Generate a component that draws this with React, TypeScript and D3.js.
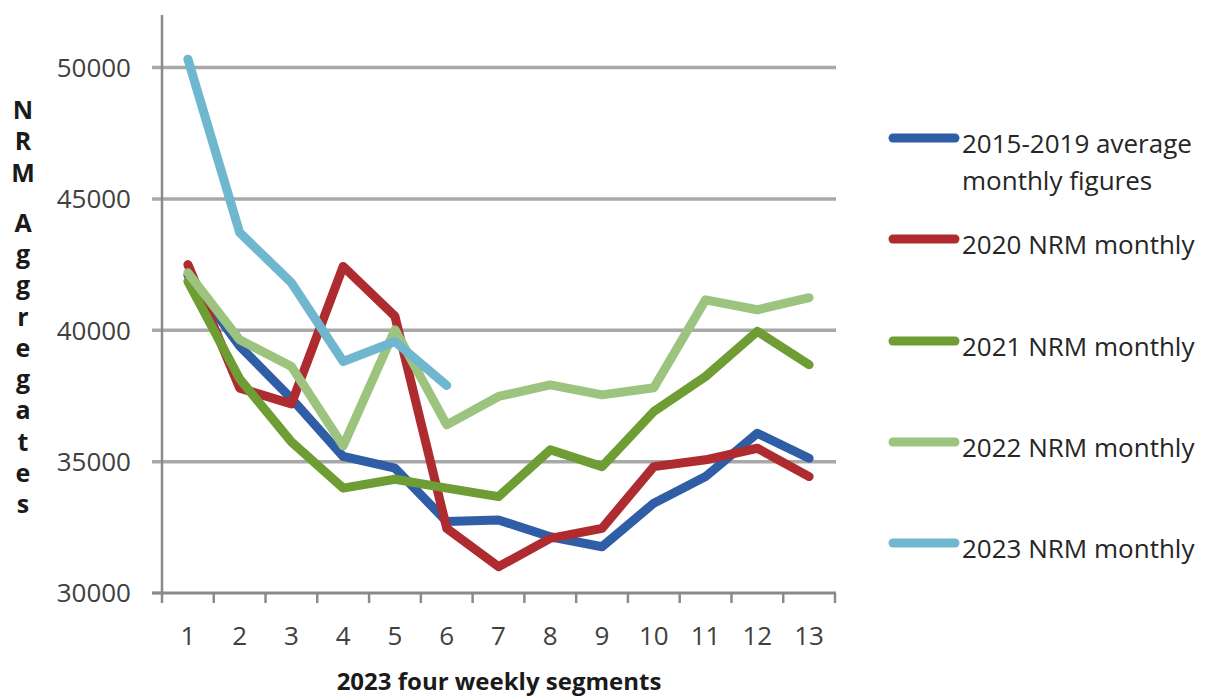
import React from "react";
import * as d3 from "d3";

// four-weekly segments 1..13
const segments = ["1", "2", "3", "4", "5", "6", "7", "8", "9", "10", "11", "12", "13"];

const avg2015to2019 = [42100, 39400, 37400, 35200, 34750, 32720, 32780, 32140, 31760, 33420, 34430, 36080, 35130];
const nrm2020 = [42500, 37800, 37200, 42430, 40530, 32460, 31000, 32080, 32460, 34810, 35070, 35510, 34430];
const nrm2021 = [41860, 38150, 35750, 33990, 34330, 33990, 33670, 35450, 34810, 36910, 38240, 39960, 38690];
const nrm2022 = [42190, 39640, 38620, 35600, 40020, 36400, 37480, 37920, 37540, 37810, 41160, 40780, 41240];
const nrm2023 = [50320, 43720, 41810, 38810, 39570, 37900];

const yTicks = [30000, 35000, 40000, 45000, 50000];

const seriesNames = [
  "2015-2019 average monthly figures",
  "2020 NRM monthly",
  "2021 NRM monthly",
  "2022 NRM monthly",
  "2023 NRM monthly",
];
const seriesValues = [avg2015to2019, nrm2020, nrm2021, nrm2022, nrm2023];
const seriesColors = ["#2F5DA6", "#AE2B2F", "#6D9D33", "#9CC47E", "#6FB6CF"];

const yTitle = "NRM Aggregates";
const xTitle = "2023 four weekly segments";

const W = 1213;
const H = 700;
const plot = { left: 162, right: 835, top: 15, bottom: 593 };

export default function App() {
  const x = d3.scaleBand<string>().domain(segments).range([plot.left, plot.right]);
  const y = d3.scaleLinear().domain([30000, 52000]).range([plot.bottom, plot.top]);
  const cx = (s: string) => (x(s) ?? 0) + x.bandwidth() / 2;

  const line = d3
    .line<number>()
    .x((_, i) => cx(segments[i]))
    .y((d) => y(d));

  const font = "'Open Sans', sans-serif";

  // stacked vertical title: a space takes a shorter step
  let acc = 0;
  const titleChars = yTitle.split("").map((ch) => {
    const pos = acc;
    acc += ch === " " ? 0.6 : 1;
    return { ch, pos };
  });
  const titleStep = 31.3;

  const legendY = [138, 239, 341, 442, 543];

  return (
    <svg width={W} height={H} style={{ position: "absolute", left: 0, top: 0, background: "#fff" }}>
      {/* gridlines */}
      {yTicks.slice(1).map((t) => (
        <line key={t} x1={plot.left - 10} x2={plot.right + 1} y1={y(t)} y2={y(t)} stroke="#A8A8A8" strokeWidth={3.5} />
      ))}
      {/* y axis */}
      <line x1={plot.left} x2={plot.left} y1={plot.top} y2={plot.bottom} stroke="#8A8A8A" strokeWidth={2.5} />
      <line x1={plot.left - 10} x2={plot.left} y1={y(30000)} y2={y(30000)} stroke="#8A8A8A" strokeWidth={2.5} />
      {yTicks.map((t) => (
        <text key={t} x={131} y={y(t)} dy="0.36em" textAnchor="end" fontFamily={font} fontSize={26} fill="#404040">
          {t}
        </text>
      ))}
      {/* x axis */}
      <line x1={plot.left - 10} x2={plot.right + 1} y1={plot.bottom} y2={plot.bottom} stroke="#8A8A8A" strokeWidth={3} />
      {[...segments.map((s) => x(s) ?? 0), plot.right].map((v, i) => (
        <line key={i} x1={v} x2={v} y1={plot.bottom} y2={plot.bottom + 10} stroke="#8A8A8A" strokeWidth={2.5} />
      ))}
      {segments.map((s) => (
        <text key={s} x={cx(s)} y={636} dy="0.36em" textAnchor="middle" fontFamily={font} fontSize={26} fill="#404040">
          {s}
        </text>
      ))}
      {/* series */}
      {seriesValues.map((vals, i) => (
        <path
          key={i}
          d={line(vals) ?? ""}
          fill="none"
          stroke={seriesColors[i]}
          strokeWidth={9}
          strokeLinejoin="round"
          strokeLinecap="round"
        />
      ))}
      {/* axis titles */}
      {titleChars
        .filter((c) => c.ch !== " ")
        .map((c, i) => (
          <text key={i} x={23} y={110 + c.pos * titleStep} dy="0.36em" textAnchor="middle" fontFamily={font} fontWeight="bold" fontSize={25} fill="#1a1a1a">
            {c.ch}
          </text>
        ))}
      <text x={499} y={681} dy="0.36em" textAnchor="middle" fontFamily={font} fontWeight="bold" fontSize={24} fill="#1a1a1a">
        {xTitle}
      </text>
      {/* legend */}
      {seriesNames.map((name, i) => {
        const ly = legendY[i];
        const lines = i === 0 ? ["2015-2019 average", "monthly figures"] : [name];
        return (
          <g key={name}>
            <line x1={893} x2={955} y1={ly} y2={ly} stroke={seriesColors[i]} strokeWidth={9} strokeLinecap="round" />
            {lines.map((t, j) => (
              <text key={j} x={962} y={ly + 6 + j * 37} dy="0.36em" fontFamily={font} fontSize={26} fill="#262626">
                {t}
              </text>
            ))}
          </g>
        );
      })}
    </svg>
  );
}
